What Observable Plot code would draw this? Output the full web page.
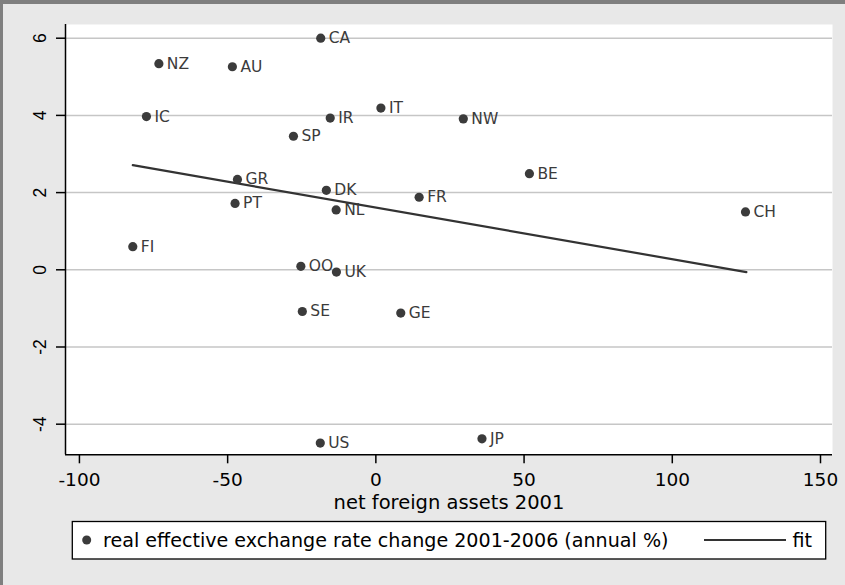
<!DOCTYPE html>
<html><head><meta charset="utf-8">
<script src="https://cdn.jsdelivr.net/npm/d3@7"></script>
<script src="https://cdn.jsdelivr.net/npm/@observablehq/plot@0.6"></script>
<style>
html,body{margin:0;padding:0;background:#e8e8e8;}
#wrap{position:relative;width:845px;height:585px;background:#e8e8e8;overflow:hidden;}
#wrap .bl{position:absolute;left:0;top:0;width:3px;height:585px;background:#7f7f7f;}
#wrap .bt{position:absolute;left:0;top:0;width:845px;height:4px;background:#7f7f7f;}
#chart{position:absolute;left:0;top:0;}
#legend{position:absolute;left:0;top:0;}
</style></head><body>
<div id="wrap"><div id="chart"></div><div class="bl"></div><div class="bt"></div></div>
<script>
const countries = ["CA","NZ","AU","IC","IR","IT","SP","GR","DK","PT","NL","FI","OO","UK","FR","NW","BE","CH","SE","GE","US","JP"];
const netForeignAssets = [-18.6,-73.2,-48.4,-77.4,-15.4,1.7,-27.8,-46.7,-16.7,-47.5,-13.4,-82.0,-25.3,-13.3,14.6,29.5,51.8,124.7,-24.8,8.4,-18.75,35.8];
const reerChange = [6.00,5.34,5.26,3.97,3.93,4.19,3.46,2.34,2.06,1.72,1.55,0.60,0.09,-0.06,1.88,3.91,2.49,1.50,-1.08,-1.12,-4.49,-4.38];
const fitX = [-82.0, 125.0];
const fitY = [2.71, -0.06];
const xTicks = [-100,-50,0,50,100,150];
const yTicks = [-4,-2,0,2,4,6];
const xTitle = "net foreign assets 2001";
const legendLabels = ["real effective exchange rate change 2001-2006 (annual %)", "fit"];

const xDom = [-104.7, 154.05];
const yDom = [-4.793, 6.355];
const font = "'DejaVu Sans', Verdana, sans-serif";
const fontY = "'Liberation Sans', Arial, sans-serif";

const pts = countries.map((c, i) => ({c, x: netForeignAssets[i], y: reerChange[i]}));
const fit = fitX.map((x, i) => ({x, y: fitY[i]}));

const chart = Plot.plot({
  width: 845, height: 585,
  marginLeft: 65, marginRight: 13, marginTop: 24, marginBottom: 130.7,
  x: {domain: xDom},
  y: {domain: yDom},
  style: {background: "transparent", fontFamily: font, color: "#000", overflow: "visible"},
  marks: [
    Plot.frame({fill: "white", stroke: null}),
    Plot.ruleY(yTicks, {stroke: "#c6c6c6", strokeWidth: 1.5}),
    Plot.line(fit, {x: "x", y: "y", stroke: "#333", strokeWidth: 2.2}),
    Plot.dot(pts, {x: "x", y: "y", r: 4.6, fill: "#3b3b3b", stroke: null}),
    Plot.text(pts, {x: "x", y: "y", text: "c", textAnchor: "start", dx: 8, fontSize: 15.5, fill: "#3b3b3b"}),
    Plot.ruleX([xDom[0]], {stroke: "#000", strokeWidth: 1.5}),
    Plot.ruleY([yDom[0]], {stroke: "#000", strokeWidth: 1.5}),
    Plot.axisX({ticks: xTicks, tickSize: 9, tickPadding: 8.6, fontSize: 18.5, tickFormat: d => String(d), label: null, strokeWidth: 1.5}),
    Plot.axisY({ticks: yTicks, tickSize: 9, tickRotate: -90, tickPadding: 10.7, fontSize: 17.5, fontFamily: fontY, tickFormat: d => String(d), label: null, strokeWidth: 1.5}),
    Plot.text([xTitle], {frameAnchor: "bottom", dy: 53.7, text: d => d, fontSize: 19.5, fill: "#000", lineAnchor: "bottom"})
  ]
});
document.getElementById("chart").appendChild(chart);

// legend
const lg = d3.select("#wrap").append("svg").attr("id", "legend").attr("width", 845).attr("height", 585)
  .style("font-family", font);
lg.append("rect").attr("x", 72.3).attr("y", 521.5).attr("width", 753.4).attr("height", 37.5)
  .attr("fill", "white").attr("stroke", "#000").attr("stroke-width", 1.3);
lg.append("circle").attr("cx", 86.7).attr("cy", 540).attr("r", 4.5).attr("fill", "#3b3b3b");
lg.append("text").attr("x", 103).attr("y", 540).attr("dy", "0.35em").attr("font-size", 19.1).attr("fill", "#000").text(legendLabels[0]);
lg.append("line").attr("x1", 704).attr("x2", 786).attr("y1", 540).attr("y2", 540).attr("stroke", "#333").attr("stroke-width", 2.2);
lg.append("text").attr("x", 792.5).attr("y", 540).attr("dy", "0.35em").attr("font-size", 19.1).attr("fill", "#000").text(legendLabels[1]);
</script>
</body></html>
